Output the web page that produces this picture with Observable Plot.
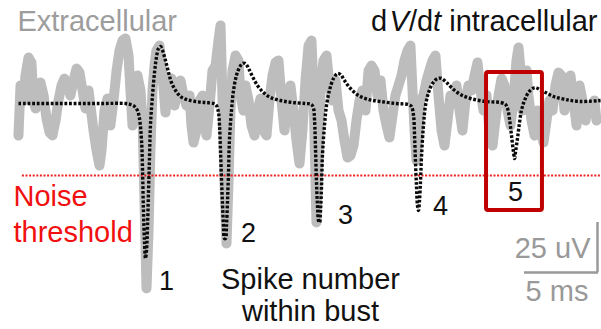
<!DOCTYPE html>
<html><head><meta charset="utf-8">
<script src="https://cdn.jsdelivr.net/npm/d3@7"></script>
<script src="https://cdn.jsdelivr.net/npm/@observablehq/plot@0.6"></script>
<style>html,body{margin:0;padding:0;background:#fff}svg{display:block}</style>
</head><body><div id="chart"></div>
<script>
// Extracellular trace: [time (ms), amplitude (µV)]
const extracellular = [
[1.23,-16],[1.37,9],[1.58,1.5],[1.71,14],[1.92,23],[2.12,20.5],[2.26,1.5],[2.40,-2.5],[2.53,9],[2.74,10.5],
[2.95,4],[3.15,-7.5],[3.36,-14.5],[3.56,-16],[3.77,-8.5],[3.97,1.5],[4.18,9],[4.38,12.5],[4.59,9],[4.79,4],
[5.00,11.5],[5.21,17.5],[5.41,15.5],[5.62,6.5],[5.82,-2.5],[6.03,6.5],[6.16,-1],[6.37,-13.5],[6.58,-23.5],[6.78,-31],
[6.92,-23.5],[7.12,-3.5],[7.33,2.5],[7.53,-11],[7.74,1.5],[7.95,16.5],[8.15,26.5],[8.36,31.5],[8.56,32.5],[8.77,24],
[8.90,6.5],[9.04,-11],[9.18,-3.5],[9.38,14],[9.59,6.5],[9.73,-8.5],[9.86,-48.5],[10.00,-92.5],[10.14,-63.5],[10.27,-23.5],
[10.41,6.5],[10.55,19],[10.68,26.5],[10.89,29],[11.10,14],[11.30,-4.5],[11.51,11.5],[11.71,12.5],[11.92,-1],[12.12,6.5],
[12.33,11.5],[12.53,4],[12.74,-1],[12.95,4],[13.08,-11],[13.22,-19.5],[13.42,-13.5],[13.63,1.5],[13.84,4],[13.97,-8.5],
[14.11,-16],[14.32,-1],[14.52,16.5],[14.73,19],[14.93,31.5],[15.07,39],[15.21,1.5],[15.34,-38.5],[15.48,-70],[15.62,-38.5],
[15.75,-3.5],[15.89,16.5],[16.10,24],[16.30,21.5],[16.44,4],[16.64,-3.5],[16.78,9],[16.99,1.5],[17.19,-11],[17.40,-16],
[17.60,-3.5],[17.81,2.5],[18.01,-13.5],[18.22,-16],[18.42,1.5],[18.63,14],[18.84,20.5],[19.04,21.5],[19.25,1.5],[19.45,-13.5],
[19.66,4],[19.86,9],[20.07,-3.5],[20.27,-18.5],[20.48,-30],[20.68,-13.5],[20.89,11.5],[21.10,29],[21.30,31.5],[21.44,6.5],
[21.64,-59.5],[21.78,-28.5],[21.92,6.5],[22.12,21.5],[22.33,24],[22.53,9],[22.74,1.5],[22.95,11.5],[23.15,-3.5],[23.36,-8.5],
[23.56,-18.5],[23.77,-27],[23.97,-26],[24.18,-21],[24.38,-8.5],[24.59,1.5],[24.79,6.5],[25.00,-3.5],[25.21,16.5],[25.41,19],
[25.62,16.5],[25.82,4],[26.03,11.5],[26.23,-3.5],[26.44,-11],[26.64,-17],[26.85,-6],[27.05,4],[27.26,9],[27.47,14],
[27.67,21.5],[27.88,26.5],[28.08,29],[28.22,6.5],[28.36,-13.5],[28.49,-28.5],[28.63,-13.5],[28.77,1.5],[28.97,4],[29.18,11.5],
[29.38,16.5],[29.59,21.5],[29.79,24],[30.00,4],[30.21,-13.5],[30.41,-21],[30.62,-8.5],[30.82,4],[31.03,1.5],[31.23,9],
[31.44,-3.5],[31.64,-13.5],[31.85,1.5],[32.05,9],[32.26,6.5],[32.47,14],[32.67,20.5],[32.88,6.5],[33.08,-3.5],[33.29,4],
[33.49,-13.5],[33.70,-21],[33.90,-8.5],[34.11,4],[34.32,12.5],[34.52,9],[34.73,-3.5],[34.93,-11],[35.14,1.5],[35.34,21.5],
[35.48,28],[35.62,16.5],[35.75,-3.5],[35.89,11.5],[36.03,16.5],[36.16,4],[36.37,-8.5],[36.58,-16],[36.78,-3.5],[36.99,-13.5],
[37.19,-19.5],[37.40,-8.5],[37.60,1.5],[37.81,-3.5],[38.01,9],[38.22,15.5],[38.42,14],[38.63,-3.5],[38.84,6.5],[39.04,14],
[39.25,1.5],[39.45,-11],[39.66,9],[39.86,1.5],[40.07,-8.5],[40.27,-1],[40.48,-3.5],[40.68,1.5],[40.82,-8.5]
];
// Intracellular dV/dt trace (scaled to the same display units): [time (ms), value]
const intracellular = [
[1.23,0],[4.11,0],[6.85,0],[8.56,0],[8.90,-0.5],[9.18,-1.5],[9.38,-3.5],[9.52,-7.5],[9.66,-18.5],[9.73,-33.5],
[9.79,-53.5],[9.86,-68.5],[9.93,-77.5],[10.00,-73.5],[10.07,-61],[10.14,-43.5],[10.21,-26],[10.27,-11],[10.41,4],[10.55,15.5],
[10.68,23],[10.82,27.5],[10.96,28.5],[11.10,26.5],[11.30,21.5],[11.51,15.5],[11.71,10.5],[11.99,6.5],[12.33,3.5],[12.74,2],
[13.36,1],[14.04,0.5],[14.59,0],[14.79,-1],[14.93,-4.5],[15.00,-11],[15.07,-23.5],[15.14,-38.5],[15.21,-51],[15.27,-61],
[15.34,-67.5],[15.41,-67.5],[15.48,-61],[15.55,-48.5],[15.62,-33.5],[15.68,-18.5],[15.82,-3.5],[15.96,6.5],[16.16,14],[16.37,18],
[16.58,20],[16.78,20],[16.99,17.5],[17.26,13.5],[17.60,9],[18.01,5.5],[18.49,3],[19.18,1.5],[20.00,0.5],[20.89,0],
[21.30,-0.5],[21.44,-2.5],[21.51,-8.5],[21.58,-23.5],[21.64,-38.5],[21.71,-51],[21.78,-58.5],[21.85,-59.5],[21.92,-53.5],[21.99,-41],
[22.05,-26],[22.19,-11],[22.33,-1],[22.53,6.5],[22.81,12.5],[23.08,15],[23.29,14.5],[23.56,11.5],[23.97,7.5],[24.52,4],
[25.21,2],[26.03,1],[27.05,0],[27.95,-0.5],[28.15,-1.5],[28.29,-6],[28.36,-16],[28.42,-28.5],[28.49,-41],[28.56,-51],
[28.63,-53.5],[28.70,-48.5],[28.77,-38.5],[28.84,-26],[28.97,-11],[29.11,-1],[29.32,5.5],[29.59,10],[29.93,12.5],[30.21,12.5],
[30.55,10.5],[30.96,7.5],[31.51,4.5],[32.19,2.5],[33.22,1],[34.25,0.5],[34.59,-0.5],[34.73,-2.5],[34.86,-7.5],[35.00,-16],
[35.14,-24.5],[35.21,-27.5],[35.27,-24.5],[35.41,-17.5],[35.55,-9.5],[35.68,-3.5],[35.89,1.5],[36.16,5.5],[36.44,7.5],[36.64,8],
[36.92,7],[37.33,5.5],[37.88,3.5],[38.70,2],[39.73,1],[41.10,1.5]
];
const noiseThreshold = -36;          // µV
const thresholdSpan = [1.5, 41.2];   // ms
const highlightBox = {t1: 33.29, t2: 37.12, v1: -53.5, v2: 15.5}; // spike 5
const spikeLabels = ["1", "2", "3", "4", "5"];
const spikeLabelT = [11.37, 16.99, 23.63, 30.14, 35.27];
const spikeLabelV = [-89, -65, -56, -51.5, -44.5];
const scaleBarMs = 5, scaleBarUv = 25;
const scaleCorner = {t: 40.89, v: -84.5};

const font = "'Liberation Sans', Arial, Helvetica, sans-serif";
const fs = 29;

const chart = Plot.plot({
  width: 601, height: 329, margin: 0,
  x: {domain: [0, 601 / 14.6], axis: null},
  y: {domain: [-113, 51.5], axis: null},
  style: {fontFamily: font, background: "#fff"},
  marks: [
    Plot.line(extracellular, {x: d => d[0], y: d => d[1], stroke: "#bdbdbd", strokeWidth: 10, strokeLinejoin: "round", strokeLinecap: "round"}),
    Plot.ruleY([noiseThreshold], {x1: thresholdSpan[0], x2: thresholdSpan[1], stroke: "#f02020", strokeWidth: 2.2, strokeDasharray: "2 1.6", strokeLinecap: "butt"}),
    Plot.line(intracellular, {x: d => d[0], y: d => d[1], stroke: "#0a0a0a", strokeWidth: 3.4, strokeDasharray: "2.8 1.8", strokeLinecap: "butt", strokeLinejoin: "miter", curve: "catmull-rom"}),
    Plot.rect([highlightBox], {x1: "t1", x2: "t2", y1: "v1", y2: "v2", fill: "none", stroke: "#c00000", strokeWidth: 4, rx: 2}),
    // scale bar
    Plot.ruleX([scaleCorner.t], {y1: scaleCorner.v, y2: scaleCorner.v + scaleBarUv, stroke: "#999", strokeWidth: 2.5}),
    Plot.ruleY([scaleCorner.v], {x1: scaleCorner.t - scaleBarMs, x2: scaleCorner.t + 0.08, stroke: "#999", strokeWidth: 2.5}),
    Plot.text([`${scaleBarUv} uV`], {x: 40.41, y: -77, textAnchor: "end", lineAnchor: "bottom", fontSize: fs, fill: "#999"}),
    Plot.text([`${scaleBarMs} ms`], {x: 40.27, y: -98.5, textAnchor: "end", lineAnchor: "bottom", fontSize: fs, fill: "#999"}),
    // spike numbers
    Plot.text(spikeLabels, {x: (d, i) => spikeLabelT[i], y: (d, i) => spikeLabelV[i], text: d => d, fontSize: 27, fill: "#111"}),
    // titles
    Plot.text(["Extracellular"], {x: 1.16, y: 36.5, textAnchor: "start", lineAnchor: "bottom", fontSize: fs, fill: "#9d9d9d"}),
    Plot.text(["dV/dt intracellular"], {x: 40.89, y: 36.5, textAnchor: "end", lineAnchor: "bottom", fontSize: fs, fill: "#111"}),
    Plot.text(["Noise\nthreshold"], {x: 0.89, y: -69, textAnchor: "start", lineAnchor: "bottom", lineHeight: 1.24, fontSize: fs, fill: "#f01010"}),
    Plot.text(["Spike number\nwithin bust"], {x: 21.23, y: -108.5, textAnchor: "middle", lineAnchor: "bottom", lineHeight: 1.1, fontSize: fs, fill: "#111"})
  ]
});
document.getElementById("chart").appendChild(chart);

// italicise V and t in "dV/dt"
d3.select(chart).selectAll("text").each(function() {
  if (this.textContent === "dV/dt intracellular") {
    const el = d3.select(this);
    el.text(null);
    el.append("tspan").text("d");
    el.append("tspan").attr("font-style", "italic").text("\u200AV");
    el.append("tspan").text("/d");
    el.append("tspan").attr("font-style", "italic").text("t");
    el.append("tspan").text(" intracellular");
  }
});
</script>
</body></html>
